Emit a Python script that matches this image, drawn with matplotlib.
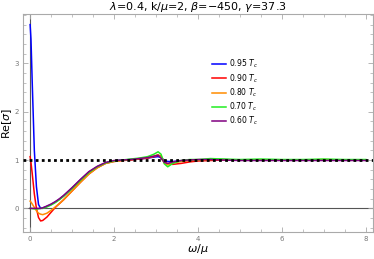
import matplotlib.pyplot as plt
from matplotlib.ticker import MultipleLocator

# frequency grid (omega/mu)
w = [0, 0.02, 0.05, 0.1, 0.15, 0.2, 0.25, 0.3, 0.4, 0.5, 0.6, 0.7, 0.8, 0.9, 1.0,
     1.2, 1.4, 1.6, 1.8, 2.0, 2.2, 2.4, 2.6, 2.8, 2.95, 3.05, 3.12, 3.2, 3.28, 3.4,
     3.6, 3.8, 4.0, 4.3, 4.6, 5.0, 5.5, 6.0, 6.5, 7.0, 7.5, 8.0]

re_095 = [3.8, 3.5, 2.6, 1.2, 0.45, 0.08, 0.0, 0.01, 0.04, 0.08, 0.13, 0.19, 0.26, 0.34, 0.42,
          0.59, 0.75, 0.86, 0.94, 0.98, 1.0, 1.01, 1.02, 1.04, 1.06, 1.07, 1.05, 0.99, 0.97, 0.97,
          0.98, 0.99, 1.0, 1.01, 1.01, 1.0, 1.0, 1.0, 1.0, 1.0, 1.0, 1.0]
re_090 = [1.07, 0.95, 0.72, 0.3, 0.0, -0.19, -0.26, -0.25, -0.18, -0.08, 0.02, 0.1, 0.18, 0.27, 0.36,
          0.54, 0.71, 0.84, 0.93, 0.97, 0.99, 1.0, 1.02, 1.04, 1.07, 1.1, 1.08, 0.96, 0.92, 0.91,
          0.93, 0.96, 0.98, 0.99, 1.0, 1.0, 1.0, 1.0, 1.0, 1.0, 1.0, 1.0]
re_080 = [0.15, 0.13, 0.09, 0.02, -0.05, -0.1, -0.12, -0.13, -0.1, -0.04, 0.03, 0.1, 0.18, 0.27, 0.36,
          0.54, 0.71, 0.84, 0.93, 0.97, 0.99, 1.01, 1.03, 1.05, 1.08, 1.11, 1.06, 0.93, 0.9, 0.94,
          0.97, 0.99, 1.0, 1.01, 1.01, 1.0, 1.0, 1.0, 1.0, 1.01, 1.0, 1.0]
re_070 = [0.0, 0.0, -0.005, -0.01, -0.01, -0.01, 0.0, 0.0, 0.03, 0.07, 0.12, 0.18, 0.25, 0.33, 0.41,
          0.58, 0.74, 0.86, 0.94, 0.98, 1.0, 1.02, 1.04, 1.07, 1.12, 1.17, 1.12, 0.92, 0.86, 0.93,
          0.99, 1.01, 1.01, 1.03, 1.02, 1.01, 1.02, 1.01, 1.01, 1.02, 1.01, 1.01]
re_060 = [0.0, 0.0, 0.0, 0.0, 0.0, 0.0, 0.0, 0.01, 0.05, 0.09, 0.14, 0.2, 0.27, 0.35, 0.43,
          0.6, 0.76, 0.87, 0.95, 0.99, 1.0, 1.01, 1.03, 1.05, 1.08, 1.1, 1.04, 0.95, 0.93, 0.96,
          0.99, 1.0, 1.01, 1.01, 1.0, 0.99, 0.99, 0.99, 0.99, 0.99, 0.99, 0.99]

labels = ['0.95 $T_c$', '0.90 $T_c$', '0.80 $T_c$', '0.70 $T_c$', '0.60 $T_c$']
colors = ['#0000ff', '#ff0000', '#ff8c00', '#22ee22', '#800080']
series = [re_095, re_090, re_080, re_070, re_060]

fig = plt.figure(figsize=(3.74, 2.59), dpi=100)
ax = fig.add_axes([0.0615, 0.104, 0.9355, 0.842])

ax.axhline(0, color='#555555', lw=0.8, zorder=1)
ax.axvline(0, color='#555555', lw=0.8, zorder=1)

for vals, c, lab in zip(series, colors, labels):
    ax.plot(w, vals, color=c, lw=1.1, label=lab, zorder=3)

ax.axhline(1, color='black', lw=2.0, ls=(0, (1, 1.2)), zorder=4)

ax.set_xlim(-0.17, 8.17)
ax.set_ylim(-0.49, 4.02)
ax.set_xticks([0, 2, 4, 6, 8])
ax.set_yticks([0, 1, 2, 3])
ax.xaxis.set_minor_locator(MultipleLocator(0.5))
ax.yaxis.set_minor_locator(MultipleLocator(0.2))
ax.tick_params(which='both', direction='in', top=True, right=True, color='#aaaaaa',
               labelsize=5, labelcolor='#777777', pad=3)
ax.tick_params(which='major', length=3.5, width=0.6)
ax.tick_params(which='minor', length=2, width=0.5)
for s in ax.spines.values():
    s.set_color('#aaaaaa')
    s.set_linewidth(0.8)

ax.set_title(r'$\lambda$=0.4, k/$\mu$=2, $\beta$=$-$450, $\gamma$=37.3', fontsize=8, pad=2)
ax.set_xlabel(r'$\omega/\mu$', fontsize=8, labelpad=0)
ax.set_ylabel(r'Re[$\sigma$]', fontsize=8, labelpad=0)

ax.legend(loc='upper left', bbox_to_anchor=(0.52, 0.83), frameon=False, fontsize=5.5,
          handlelength=1.8, labelspacing=0.22, handletextpad=0.5)

fig.savefig('out.png', dpi=100)
